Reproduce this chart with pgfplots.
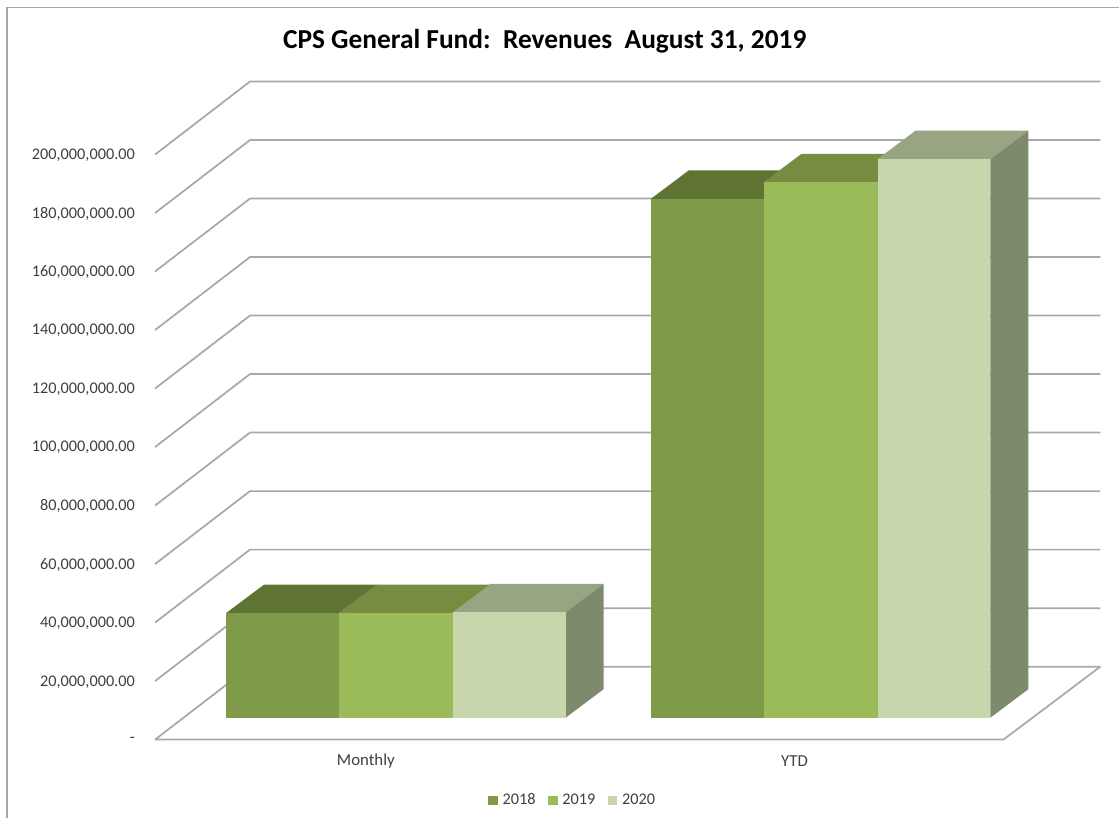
\documentclass[border=0pt]{standalone}
\usepackage{pgfplots}
\pgfplotsset{compat=1.18}
\usepackage{fontspec}
\setmainfont{Carlito}

\definecolor{frontA}{HTML}{7F9A48}
\definecolor{topA}{HTML}{5F7433}
\definecolor{sideA}{HTML}{5F7433}
\definecolor{frontB}{HTML}{9BBB5B}
\definecolor{topB}{HTML}{778C40}
\definecolor{sideB}{HTML}{778C40}
\definecolor{frontC}{HTML}{C7D6AB}
\definecolor{topC}{HTML}{98A583}
\definecolor{sideC}{HTML}{7E8A6C}
\definecolor{wall}{HTML}{A8A8A8}

% y is in millions. Floor of the bars sits at 7.515, the depth offset is 38 units in x and 9.735 in y.
\newcommand{\wallline}[2]{%
  \addplot[wall, line width=1.3pt, forget plot] coordinates {(155,#1) (250,#2) (1101,#2)};}
% #1 left edge, #2 right edge, #3 value in millions, #4 colour stem
\newcommand{\prism}[4]{%
  \pgfmathsetmacro{\xback}{#2+38}%
  \pgfmathsetmacro{\xbackl}{#1+38}%
  \pgfmathsetmacro{\ytop}{7.515+#3}%
  \pgfmathsetmacro{\ytopb}{7.515+#3+9.735}%
  \edef\drawprism{%
  \noexpand\addplot[fill=top#4, draw=none, forget plot] coordinates {(#1,\ytop) (#2,\ytop) (\xback,\ytopb) (\xbackl,\ytopb)} -- cycle;
  \noexpand\addplot[fill=side#4, draw=none, forget plot] coordinates {(#2,7.515) (\xback,17.25) (\xback,\ytopb) (#2,\ytop)} -- cycle;
  \noexpand\addplot[fill=front#4, draw=none, forget plot] coordinates {(#1,7.515) (#2,7.515) (#2,\ytop) (#1,\ytop)} -- cycle;
  }\drawprism}

\begin{document}
\begin{tikzpicture}
\begin{axis}[
  scale only axis, width=840pt, height=613.5pt,
  xmin=0, xmax=1120, ymin=-26.644, ymax=252.776,
  axis line style={draw=none},
  major tick length=0pt,
  clip=false,
  font=\fontsize{12.2pt}{14pt}\selectfont,
  tick label style={text=black!75},
  xtick={366,795},
  xticklabels={Monthly,YTD},
  xticklabel style={anchor=center, yshift=42.2pt, font=\fontsize{12.6pt}{14pt}\selectfont},
  ytick={0,20,40,60,80,100,120,140,160,180,200},
  yticklabels={-,{20,000,000.00},{40,000,000.00},{60,000,000.00},{80,000,000.00},{100,000,000.00},{120,000,000.00},{140,000,000.00},{160,000,000.00},{180,000,000.00},{200,000,000.00}},
  yticklabel style={anchor=east, xshift=104.6pt, yshift=-0.5pt},
  title={\bfseries\fontsize{20.55pt}{23pt}\selectfont CPS General Fund:\ \ Revenues\ \ August 31, 2019},
  title style={at={(axis description cs:0.4866,0.9405)}, anchor=center, text=black},
  legend columns=3,
  legend style={at={(axis description cs:0.5118,0.021)}, anchor=center, draw=none, fill=none,
    font=\fontsize{12.2pt}{14pt}\selectfont, text=black!75,
    /tikz/every even column/.style={column sep=7.2pt}},
  legend image code/.code={\fill[#1] (0pt,-3.2pt) rectangle (6.5pt,3.3pt); \path (8.5pt,0pt);},
]
% chart frame: left and top edges
\addplot[wall, line width=1pt, forget plot] coordinates {(7,-26.644) (7,250.2) (1120,250.2)};

% walls and floor
\wallline{0}{24.94}
\wallline{20}{44.94}
\wallline{40}{64.94}
\wallline{60}{84.94}
\wallline{80}{104.94}
\wallline{100}{124.94}
\wallline{120}{144.94}
\wallline{140}{164.94}
\wallline{160}{184.94}
\wallline{180}{204.94}
\wallline{200}{224.94}
\addplot[wall, line width=1.3pt, forget plot] coordinates {(155,0) (1004,0) (1101,24.94)};

% Monthly
\prism{226}{339}{35.7}{A}
\prism{339}{453}{35.7}{B}
\prism{453}{566}{36.0}{C}
% YTD
\prism{651}{764}{177.3}{A}
\prism{764}{878}{183.0}{B}
\prism{878}{991}{190.9}{C}

\addlegendimage{frontA, fill=frontA}\addlegendentry{2018}
\addlegendimage{frontB, fill=frontB}\addlegendentry{2019}
\addlegendimage{frontC, fill=frontC}\addlegendentry{2020}
\end{axis}
\end{tikzpicture}
\end{document}
